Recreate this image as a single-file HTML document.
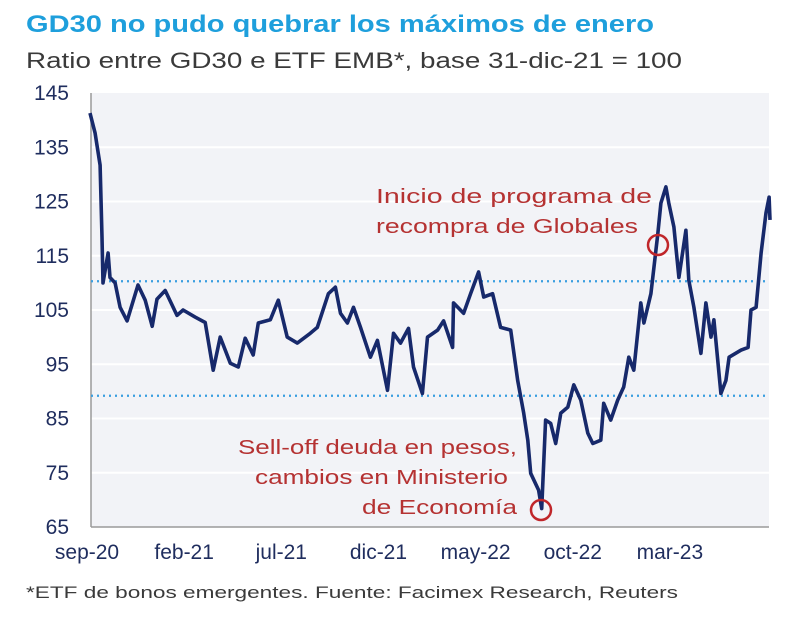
<!DOCTYPE html>
<html><head><meta charset="utf-8"><style>
body{margin:0;background:#fff;width:800px;height:617px;overflow:hidden;font-family:"Liberation Sans",sans-serif}
</style></head><body>
<svg width="800" height="617" viewBox="0 0 800 617">
<text x="26" y="32" font-size="24" font-weight="bold" fill="#1e9fdc" textLength="628" lengthAdjust="spacingAndGlyphs">GD30 no pudo quebrar los máximos de enero</text>
<text x="26" y="68" font-size="22" fill="#3a3a3a" textLength="656" lengthAdjust="spacingAndGlyphs">Ratio entre GD30 e ETF EMB*, base 31-dic-21 = 100</text>
<rect x="91" y="93" width="678" height="434" fill="#f2f3f7"/>
<g id="grid"></g>
<g id="yticks"></g>
<g id="xticks"></g>
<line x1="91" y1="93" x2="91" y2="527" stroke="#9a9a9a" stroke-width="1.5"/>
<line x1="91" y1="527" x2="769" y2="527" stroke="#9a9a9a" stroke-width="1.5"/>
<g id="refs"></g>
<path id="series" fill="none" stroke="#17296b" stroke-width="3.6" stroke-linejoin="round"/>
<circle cx="541" cy="510" r="10" fill="none" stroke="#c0262a" stroke-width="2.5"/>
<circle cx="658" cy="245" r="10" fill="none" stroke="#c0262a" stroke-width="2.5"/>
<g font-size="20" fill="#b53232">
<text x="376" y="203" textLength="276" lengthAdjust="spacingAndGlyphs">Inicio de programa de</text>
<text x="376" y="233" textLength="262" lengthAdjust="spacingAndGlyphs">recompra de Globales</text>
</g>
<g font-size="20" fill="#b53232">
<text x="238" y="454" textLength="279" lengthAdjust="spacingAndGlyphs">Sell-off deuda en pesos,</text>
<text x="255" y="484" textLength="253" lengthAdjust="spacingAndGlyphs">cambios en Ministerio</text>
<text x="362" y="514" textLength="155" lengthAdjust="spacingAndGlyphs">de Economía</text>
</g>
<text x="26" y="598" font-size="17" fill="#3a3a3a" textLength="652" lengthAdjust="spacingAndGlyphs">*ETF de bonos emergentes. Fuente: Facimex Research, Reuters</text>
</svg>
<script>
const months=[0,.26,.52,.62,.67,.93,1.03,1.29,1.55,1.91,2.47,2.84,3.2,3.45,3.87,4.48,4.79,5.41,5.93,6.34,6.7,7.22,7.63,7.99,8.4,8.66,9.28,9.69,10.15,10.67,11.34,11.7,12.27,12.63,12.89,13.25,13.56,13.92,14.43,14.79,15.31,15.62,15.98,16.39,16.65,17.11,17.37,17.89,18.2,18.66,18.71,19.23,19.59,20,20.26,20.72,21.13,21.65,22.01,22.32,22.53,22.68,23.09,23.25,23.45,23.71,23.97,24.23,24.59,24.9,25.26,25.62,25.88,26.29,26.44,26.8,27.16,27.47,27.73,27.99,28.35,28.51,28.87,29.23,29.38,29.64,29.79,30.05,30.31,30.67,30.82,31.08,31.44,31.7,31.96,32.11,32.47,32.73,32.89,33.51,33.87,34.02,34.28,34.54,34.79,34.95,35];
const values=[141.3,137.6,131.7,118.4,110,115.5,111,110,105.5,103,109.6,106.8,102,107,108.6,104,105,103.7,102.7,93.9,100,95.2,94.5,99.8,96.7,102.6,103.2,106.8,100,98.9,100.7,101.8,108,109.2,104.4,102.6,105.5,101.8,96.3,99.4,90.2,100.7,98.9,101.6,94.5,89.6,100,101.3,103,98.1,106.3,104.4,108,112,107.4,108,101.8,101.3,92,86,81,74.9,71.8,68.4,84.7,84.1,80.4,86,87.1,91.2,88.4,82.3,80.4,81,87.8,84.7,88.4,90.8,96.3,93.9,106.3,102.6,108,119.2,124.7,127.7,124.7,120.3,111,119.7,110.5,105.5,97,106.3,100,103.2,89.6,92,96.3,97.6,98.1,105,105.5,115.5,122.9,125.8,121.6];
const yTicks=[65,75,85,95,105,115,125,135,145];
const xTickMonths=[0,5,10,15,20,25,30];
const xTickLabels=["sep-20","feb-21","jul-21","dic-21","may-22","oct-22","mar-23"];
const refLevels=[110.3,89.2];
const NS="http://www.w3.org/2000/svg";
const X=m=>90+m*19.43;
const Y=v=>527-(v-65)*5.425;
function mk(tag,attrs,parent){const e=document.createElementNS(NS,tag);for(const k in attrs)e.setAttribute(k,attrs[k]);document.getElementById(parent).appendChild(e);return e;}
yTicks.forEach(v=>{
  if(v>65&&v<145){const g=mk('line',{x1:91,x2:769,y1:Y(v),y2:Y(v),stroke:'#ffffff','stroke-width':2},'grid');
  
  }
  const t=mk('text',{x:69,y:Y(v)+7,'text-anchor':'end','font-size':21,fill:'#1f2d5e'},'yticks');
  t.textContent=v;
  
  
});
xTickMonths.forEach((m,i)=>{
  const t=mk('text',{x:X(m)-3,y:559,'text-anchor':'middle','font-size':21,fill:'#1f2d5e'},'xticks');
  t.textContent=xTickLabels[i];
  
  
});
refLevels.forEach(v=>{
  const l=mk('line',{x1:91,x2:769,y1:Y(v),y2:Y(v),stroke:'#3a9ee0','stroke-width':2.2,'stroke-dasharray':'2 4'},'refs');
  
  
});
document.getElementById('series').setAttribute('d',months.map((m,i)=>(i?'L':'M')+X(m).toFixed(1)+' '+Y(values[i]).toFixed(1)).join(' '));
</script>
</body></html>
